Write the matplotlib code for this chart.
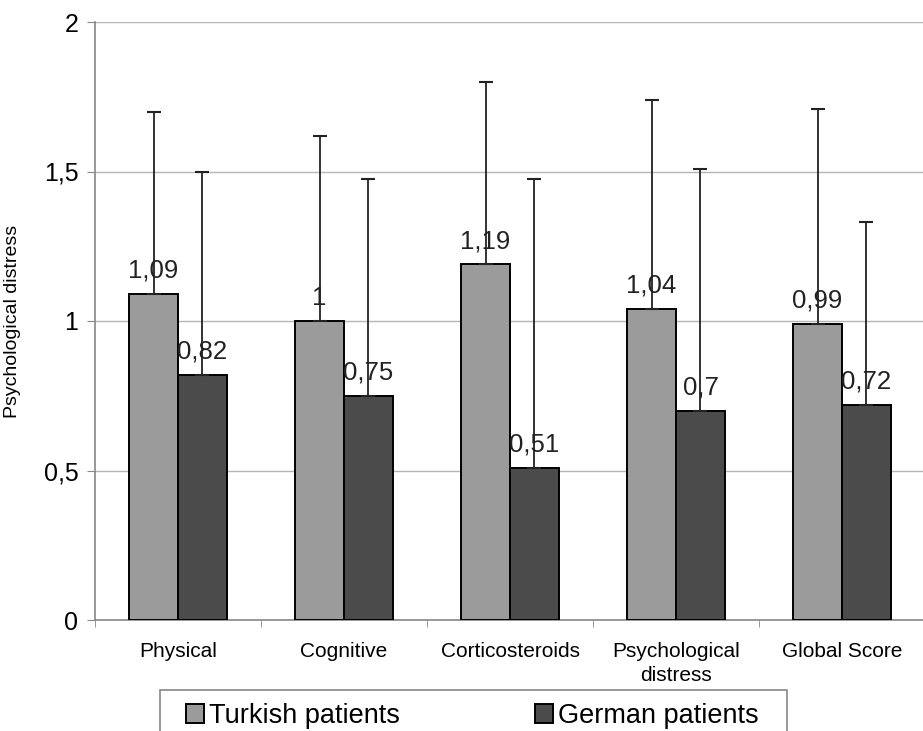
import matplotlib
matplotlib.use("Agg")
import matplotlib.pyplot as plt
from matplotlib.patches import Rectangle
import numpy as np

plt.rcParams['font.family'] = ['Liberation Sans', 'DejaVu Sans']

categories = ['Physical', 'Cognitive', 'Corticosteroids', 'Psychological\ndistress', 'Global Score']
turkish = [1.09, 1.00, 1.19, 1.04, 0.99]
german = [0.82, 0.75, 0.51, 0.70, 0.72]
turkish_sd = [0.61, 0.62, 0.61, 0.70, 0.72]
german_sd = [0.68, 0.725, 0.965, 0.81, 0.61]
yticks = [0, 0.5, 1, 1.5, 2]
ytick_labels = ['0', '0,5', '1', '1,5', '2']

fig = plt.figure(figsize=(9.23, 7.31), dpi=100)
ax = fig.add_axes([95 / 923, 111 / 731, 830 / 923, 598 / 731])

x = np.arange(len(categories))
w = 0.295

b1 = ax.bar(x - w / 2, turkish, w, color='#9b9b9b', edgecolor='black', linewidth=1.4,
            label='Turkish patients', zorder=3)
b2 = ax.bar(x + w / 2, german, w, color='#4b4b4b', edgecolor='black', linewidth=1.4,
            label='German patients', zorder=3)

ax.errorbar(x - w / 2, turkish, yerr=[np.zeros(len(x)), turkish_sd], fmt='none',
            ecolor='#222222', elinewidth=1.3, capsize=5, capthick=1.5, zorder=4)
ax.errorbar(x + w / 2, german, yerr=[np.zeros(len(x)), german_sd], fmt='none',
            ecolor='#222222', elinewidth=1.3, capsize=5, capthick=1.5, zorder=4)

def autolabel(rects):
    for rect in rects:
        h = rect.get_height()
        ax.annotate('{:g}'.format(h).replace('.', ','),
                    xy=(rect.get_x() + rect.get_width() / 2, h),
                    xytext=(0, 8), textcoords='offset points',
                    ha='center', va='bottom', fontsize=18.5, color='#222222', zorder=5)

autolabel(b1)
autolabel(b2)

ax.set_xlim(-0.5, len(categories) - 0.5)
ax.set_ylim(0, 2)
ax.set_yticks(yticks)
ax.set_yticklabels(ytick_labels, fontsize=18)
ax.set_xticks(x)
ax.set_xticklabels(categories, fontsize=15, linespacing=1.3)
ax.set_xticks(np.arange(len(categories) + 1) - 0.5, minor=True)
ax.tick_params(axis='x', which='major', length=0, pad=16)
ax.tick_params(axis='x', which='minor', length=5, color='#888888', direction='out')
ax.tick_params(axis='y', length=6, color='#888888', pad=6)
ax.set_ylabel('Psychological distress', fontsize=14, labelpad=16)

ax.grid(axis='y', color='#b5b5b5', linewidth=1, zorder=0)
for s in ['top', 'right']:
    ax.spines[s].set_visible(False)
for s in ['left', 'bottom']:
    ax.spines[s].set_color('#888888')
    ax.spines[s].set_linewidth(1.2)

# legend box runs off the bottom edge of the figure
fig.patches.append(Rectangle((160 / 923, -0.05), 627 / 923, 0.05 + 41 / 731,
                             transform=fig.transFigure, facecolor='white',
                             edgecolor='#888888', linewidth=1.2))
leg = fig.legend(loc='center left', bbox_to_anchor=(186 / 923, 15 / 731),
                 ncol=2, fontsize=19.5, frameon=False, handlelength=0.65,
                 handleheight=0.65, handletextpad=0.2, columnspacing=5.0,
                 borderpad=0, borderaxespad=0)

fig.savefig('out.png', dpi=100)
